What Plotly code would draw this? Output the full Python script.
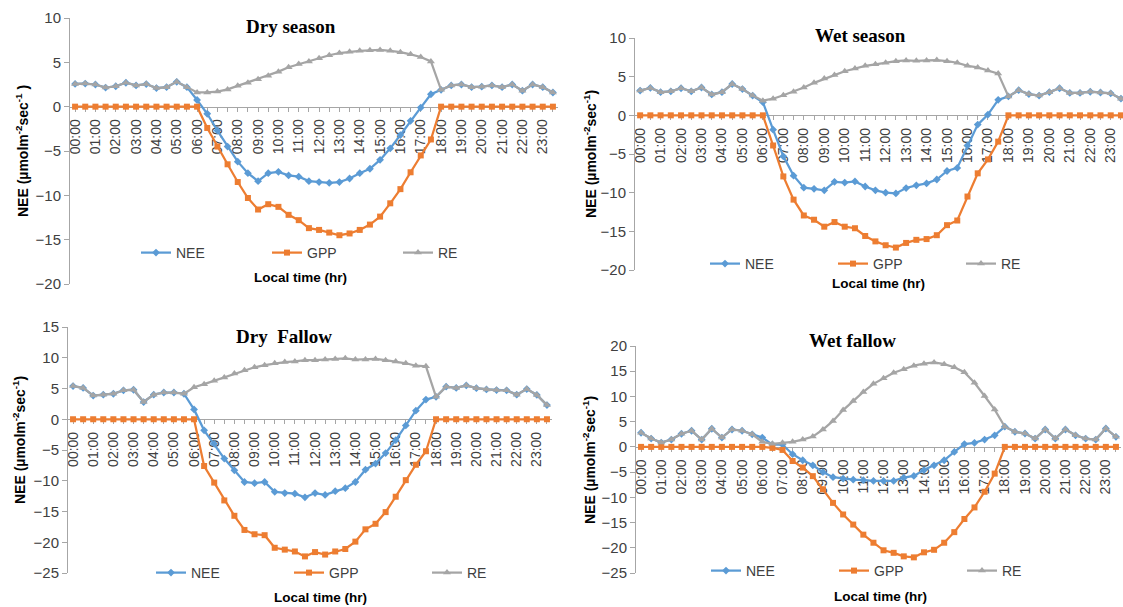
import plotly.graph_objects as go

TIMES = ["00:00","00:30","01:00","01:30","02:00","02:30","03:00","03:30","04:00","04:30","05:00","05:30",
         "06:00","06:30","07:00","07:30","08:00","08:30","09:00","09:30","10:00","10:30","11:00","11:30",
         "12:00","12:30","13:00","13:30","14:00","14:30","15:00","15:30","16:00","16:30","17:00","17:30",
         "18:00","18:30","19:00","19:30","20:00","20:30","21:00","21:30","22:00","22:30","23:00","23:30"]
HOUR_LABELS = ["00:00","01:00","02:00","03:00","04:00","05:00","06:00","07:00","08:00","09:00","10:00","11:00",
               "12:00","13:00","14:00","15:00","16:00","17:00","18:00","19:00","20:00","21:00","22:00","23:00"]
SERIES = ["NEE", "GPP", "RE"]

# Dry season
dry_nee = [2.57,2.6,2.5,2.15,2.3,2.7,2.4,2.55,2.1,2.2,2.8,2.2,
           0.75,-0.8,-2.7,-4.5,-6.2,-7.5,-8.4,-7.5,-7.35,-7.75,-7.9,-8.4,
           -8.5,-8.6,-8.5,-8.1,-7.5,-7.0,-6.0,-4.7,-3.2,-1.6,-0.1,1.4,
           1.9,2.4,2.5,2.2,2.25,2.4,2.2,2.5,1.8,2.5,2.2,1.6]
dry_gpp = [0,0,0,0,0,0,0,0,0,0,0,0,
           0,-2.4,-4.5,-6.5,-8.5,-10.3,-11.6,-11.0,-11.3,-12.2,-12.8,-13.7,
           -13.9,-14.2,-14.5,-14.3,-13.9,-13.3,-12.4,-10.9,-9.3,-7.4,-5.5,-3.7,
           0,0,0,0,0,0,0,0,0,0,0,0]
dry_re = [2.57,2.6,2.5,2.15,2.3,2.7,2.4,2.55,2.1,2.2,2.8,2.2,
          1.6,1.6,1.7,1.95,2.35,2.7,3.1,3.5,3.95,4.45,4.8,5.1,
          5.45,5.8,6.05,6.2,6.3,6.35,6.4,6.3,6.15,5.9,5.6,5.1,
          1.9,2.4,2.5,2.2,2.25,2.4,2.2,2.5,1.8,2.5,2.2,1.6]

# Wet season
wet_nee = [3.2,3.55,3.0,3.1,3.5,3.1,3.6,2.7,3.0,4.05,3.4,2.55,
           1.7,-1.85,-5.3,-7.8,-9.35,-9.5,-9.7,-8.6,-8.7,-8.55,-9.2,-9.7,
           -10.0,-10.1,-9.4,-9.05,-8.8,-8.3,-7.2,-6.8,-3.9,-1.2,0.1,2.0,
           2.45,3.25,2.75,2.55,3.0,3.5,2.9,2.9,3.05,2.95,2.85,2.15]
wet_gpp = [0,0,0,0,0,0,0,0,0,0,0,0,
           0,-3.9,-7.9,-10.9,-12.95,-13.5,-14.4,-13.8,-14.4,-14.6,-15.6,-16.3,
           -16.8,-17.1,-16.5,-16.1,-16.0,-15.5,-14.2,-13.6,-10.5,-7.5,-5.7,-3.4,
           0,0,0,0,0,0,0,0,0,0,0,0]
wet_re = [3.2,3.55,3.0,3.1,3.5,3.1,3.6,2.7,3.0,4.05,3.4,2.55,
          1.9,2.15,2.6,3.05,3.6,4.2,4.75,5.2,5.7,6.05,6.4,6.6,
          6.8,7.0,7.1,7.05,7.1,7.15,7.0,6.8,6.4,6.2,5.8,5.4,
          2.45,3.25,2.75,2.55,3.0,3.5,2.9,2.9,3.05,2.95,2.85,2.15]

# Dry fallow
dryf_nee = [5.4,5.1,3.85,4.0,4.15,4.7,4.8,2.8,4.0,4.35,4.35,4.15,
            1.6,-1.8,-4.0,-6.4,-8.3,-10.2,-10.4,-10.2,-11.8,-12.0,-12.1,-12.7,
            -12.0,-12.3,-11.7,-11.2,-10.2,-8.2,-7.2,-5.5,-3.4,-1.0,1.4,3.2,
            3.65,5.3,5.1,5.5,5.05,4.85,4.75,4.7,4.0,4.9,3.95,2.3]
dryf_gpp = [0,0,0,0,0,0,0,0,0,0,0,0,
            0,-7.6,-10.3,-13.2,-15.7,-18.0,-18.7,-18.85,-20.9,-21.2,-21.5,-22.3,
            -21.6,-22.0,-21.5,-21.1,-19.9,-17.9,-17.0,-15.1,-12.6,-9.9,-7.4,-5.2,
            0,0,0,0,0,0,0,0,0,0,0,0]
dryf_re = [5.4,5.1,3.85,4.0,4.15,4.7,4.8,2.8,4.0,4.35,4.35,4.15,
           5.2,5.7,6.25,6.8,7.45,7.95,8.45,8.8,9.1,9.3,9.4,9.6,
           9.6,9.7,9.8,9.9,9.7,9.7,9.8,9.6,9.4,9.1,8.7,8.6,
           3.65,5.3,5.1,5.5,5.05,4.85,4.75,4.7,4.0,4.9,3.95,2.3]

# Wet fallow
wetf_nee = [2.8,1.65,0.85,1.45,2.6,3.2,1.45,3.6,1.85,3.45,3.2,2.5,
            1.85,0.45,0.45,-1.45,-2.65,-3.65,-5.0,-6.0,-6.3,-6.5,-6.6,-6.75,
            -6.75,-6.75,-6.1,-5.75,-4.6,-3.65,-2.65,-1.0,0.55,0.8,1.45,2.3,
            4.0,3.0,2.65,1.65,3.45,1.65,3.45,2.3,1.65,1.45,3.65,2.0]
wetf_gpp = [0,0,0,0,0,0,0,0,0,0,0,0,
            0,-0.2,-0.6,-2.8,-4.1,-5.8,-8.4,-11.1,-13.4,-15.4,-17.4,-19.0,
            -20.5,-21.0,-21.7,-21.9,-20.9,-20.4,-19.0,-16.9,-14.3,-12.0,-8.9,-5.3,
            0,0,0,0,0,0,0,0,0,0,0,0]
wetf_re = [2.8,1.65,0.85,1.45,2.6,3.2,1.45,3.6,1.85,3.45,3.2,2.5,
           1.0,0.6,0.8,1.0,1.45,2.05,3.45,5.15,7.3,9.1,10.9,12.5,
           13.6,14.7,15.4,16.1,16.5,16.75,16.4,15.8,14.8,12.7,10.1,7.4,
           4.0,3.0,2.65,1.65,3.45,1.65,3.45,2.3,1.65,1.45,3.65,2.0]

W, H = 1123, 607
COLORS = {"NEE": "#5B9BD5", "GPP": "#ED7D31", "RE": "#A5A5A5"}
SYMBOLS = {"NEE": "diamond", "GPP": "square", "RE": "triangle-up"}
MSIZE = {"NEE": 6, "GPP": 6, "RE": 7}

# tick text: label on the hour, blank on the half hour (tick mark on every category)
TICKTEXT = [t if t in HOUR_LABELS else "" for t in TIMES]

panels = [
    dict(title="Dry season", data=[dry_nee, dry_gpp, dry_re], yr=[-20, 10],
         ytitle="NEE (µmolm<sup>-2</sup>sec<sup>-1</sup> )",
         px=(70, 558), py=(18, 284), xr=[-0.5, 47.5],
         tpos=(291, 26), ytpos=(22, 151), xtpos=(300, 278), leg=(136, 253), ew=133),
    dict(title="Wet season", data=[wet_nee, wet_gpp, wet_re], yr=[-20, 10],
         ytitle="NEE (µmolm<sup>-2</sup>sec<sup>-1</sup>)",
         px=(635, 1123), py=(38, 270), xr=[-0.5, 47.2],
         tpos=(860, 36), ytpos=(590, 154), xtpos=(878, 283), leg=(705, 264), ew=130),
    dict(title="Dry\u00a0 Fallow", data=[dryf_nee, dryf_gpp, dryf_re], yr=[-25, 15],
         ytitle="NEE (µmolm<sup>-2</sup>sec<sup>-1</sup>)",
         px=(68, 552), py=(327, 573), xr=[-0.5, 47.5],
         tpos=(284, 337), ytpos=(19, 440), xtpos=(320, 597), leg=(151, 573), ew=140),
    dict(title="Wet fallow", data=[wetf_nee, wetf_gpp, wetf_re], yr=[-25, 20],
         ytitle="NEE (µmolm<sup>-2</sup>sec<sup>-1</sup>)",
         px=(636, 1121), py=(346, 573), xr=[-0.5, 47.5],
         tpos=(852, 340), ytpos=(589, 460), xtpos=(880, 596), leg=(706, 571), ew=130),
]

fig = go.Figure()
annotations = []
layout = {}
for i, p in enumerate(panels):
    n = "" if i == 0 else str(i + 1)
    xa, ya = "x" + n, "y" + n
    lg = "legend" + n
    for name, vals in zip(SERIES, p["data"]):
        fig.add_trace(go.Scatter(
            x=TIMES, y=vals, name=name, mode="lines+markers",
            xaxis=xa, yaxis=ya, legend=lg,
            line=dict(color=COLORS[name], width=2.25),
            marker=dict(symbol=SYMBOLS[name], size=MSIZE[name], color=COLORS[name]),
        ))
    x0, x1 = p["px"][0] / W, min(p["px"][1] / W, 1.0)
    y0, y1 = 1 - p["py"][1] / H, 1 - p["py"][0] / H
    ymin, ymax = p["yr"]
    zero_pos = y0 + (0 - ymin) / (ymax - ymin) * (y1 - y0)
    layout["xaxis" + n] = dict(
        type="category", domain=[x0, x1], range=p["xr"], anchor="free", position=zero_pos,
        tickmode="array", tickvals=TIMES, ticktext=TICKTEXT, tickangle=-90,
        tickfont=dict(family="Liberation Sans", size=14, color="#404040"),
        showline=True, linecolor="#A6A6A6", linewidth=1, ticks="outside", ticklen=4,
        tickcolor="#A6A6A6", ticklabelstandoff=2, showgrid=False, zeroline=False,
        layer="below traces", automargin=False, fixedrange=True,
    )
    layout["yaxis" + n] = dict(
        domain=[y0, y1], range=p["yr"], anchor=xa, dtick=5,
        tickfont=dict(family="Liberation Sans", size=15, color="#404040"),
        showline=True, linecolor="#A6A6A6", linewidth=1, ticks="outside", ticklen=5,
        tickcolor="#A6A6A6", showgrid=False, zeroline=False, automargin=False, fixedrange=True,
    )
    layout[lg] = dict(
        orientation="h", x=p["leg"][0] / W, y=1 - p["leg"][1] / H, xanchor="left", yanchor="middle",
        xref="paper", yref="paper", bgcolor="rgba(0,0,0,0)", itemwidth=30,
        entrywidth=p["ew"] - 47, entrywidthmode="pixels",
        font=dict(family="Liberation Sans", size=14, color="#404040"),
    )
    annotations.append(dict(text="<b>" + p["title"] + "</b>", x=p["tpos"][0] / W, y=1 - p["tpos"][1] / H,
                            xref="paper", yref="paper", showarrow=False, xanchor="center", yanchor="middle",
                            font=dict(family="Liberation Serif", size=19, color="#000000")))
    annotations.append(dict(text="<b>Local time (hr)</b>", x=p["xtpos"][0] / W, y=1 - p["xtpos"][1] / H,
                            xref="paper", yref="paper", showarrow=False, xanchor="center", yanchor="middle",
                            font=dict(family="Liberation Sans", size=13.5, color="#000000")))
    annotations.append(dict(text="<b>" + p["ytitle"] + "</b>", x=p["ytpos"][0] / W,
                            y=1 - p["ytpos"][1] / H, xref="paper", yref="paper", showarrow=False,
                            textangle=-90, xanchor="center", yanchor="middle",
                            font=dict(family="Liberation Sans", size=14, color="#000000")))

fig.update_layout(**layout)
fig.update_layout(
    width=W, height=H, margin=dict(l=0, r=0, t=0, b=0),
    paper_bgcolor="white", plot_bgcolor="white",
    annotations=annotations, showlegend=True,
)
fig.write_html("out.html", config={"displayModeBar": False},
               post_script="document.body.style.margin='0';")
